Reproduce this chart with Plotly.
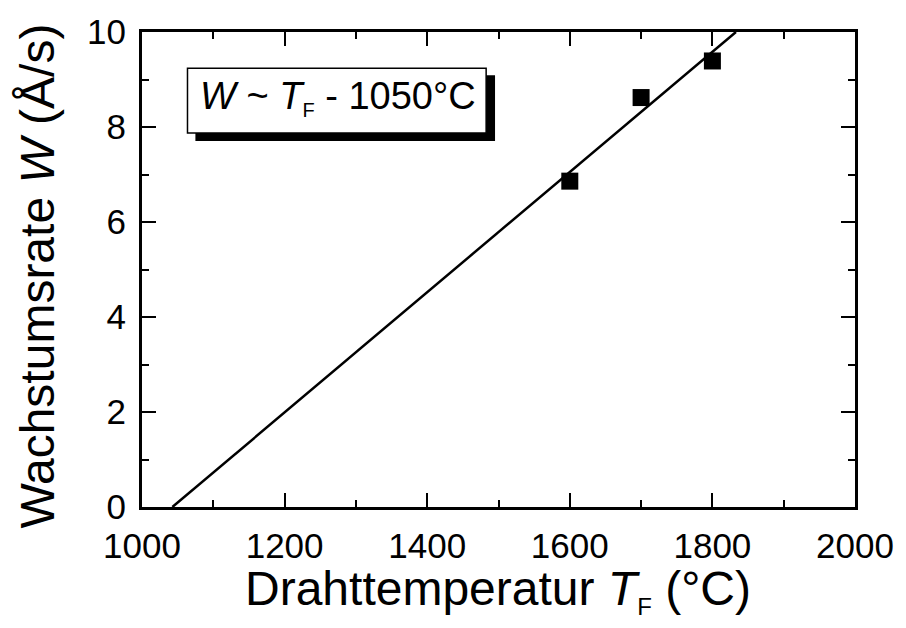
import plotly.graph_objects as go

# Data
temp_C = [1600, 1700, 1800]
rate_A_per_s = [6.86, 8.62, 9.39]
fit_T = [1042.6, 1833]
fit_W = [0, 10]
x_ticks = [1000, 1200, 1400, 1600, 1800, 2000]
y_ticks = [0, 2, 4, 6, 8, 10]

FONT = "Liberation Sans"
W, H = 906, 628
L, R, T, B = 142, 43, 23, 121
pw, ph = W - L - R, H - T - B

def px(x):
    return (x - L) / pw

def py(y):
    return (H - B - y) / ph

fig = go.Figure()
fig.add_trace(go.Scatter(x=fit_T, y=fit_W, mode="lines",
                         line=dict(color="black", width=2.5), showlegend=False,
                         cliponaxis=True))
fig.add_trace(go.Scatter(x=temp_C, y=rate_A_per_s, mode="markers",
                         marker=dict(symbol="square", size=17, color="black"),
                         showlegend=False, cliponaxis=False))

axis_common = dict(
    showline=True, linecolor="black", linewidth=3, mirror="allticks",
    ticks="inside", ticklen=14, tickwidth=2, tickcolor="black",
    showgrid=False, zeroline=False,
    tickfont=dict(family=FONT, size=35, color="black"),
)

fig.update_xaxes(range=[1000, 2000], tickvals=x_ticks,
                 minor=dict(dtick=100, ticks="inside", ticklen=7, tickwidth=2,
                            tickcolor="black", showgrid=False),
                 ticklabelstandoff=6,
                 **axis_common)
fig.update_yaxes(range=[0, 10], tickvals=y_ticks,
                 minor=dict(dtick=1, ticks="inside", ticklen=7, tickwidth=2,
                            tickcolor="black", showgrid=False),
                 ticklabelstandoff=6,
                 **axis_common)

# Shadow + box
fig.add_shape(type="rect", xref="paper", yref="paper",
              x0=px(196), x1=px(499), y0=py(134), y1=py(67),
              fillcolor="black", line=dict(width=0), layer="above")
fig.add_shape(type="rect", xref="paper", yref="paper",
              x0=px(188), x1=px(490), y0=py(126), y1=py(60),
              fillcolor="white", line=dict(color="black", width=1.5), layer="above")

fig.add_annotation(xref="paper", yref="paper", x=px(340), y=py(90),
                   xanchor="center", yanchor="middle", showarrow=False,
                   text="<i>W</i> ~ <i>T</i><sub><span style='font-size:20px'>F</span></sub> - 1050°C",
                   font=dict(family=FONT, size=38, color="black"))

# Axis titles
fig.add_annotation(xref="paper", yref="paper", x=px(502), y=py(593),
                   xanchor="center", yanchor="middle", showarrow=False,
                   text="Drahttemperatur <i>T</i><sub><span style='font-size:24px'>F</span></sub> (°C)",
                   font=dict(family=FONT, size=48, color="black"))
fig.add_annotation(xref="paper", yref="paper", x=px(36), y=py(272),
                   xanchor="center", yanchor="middle", showarrow=False,
                   textangle=-90,
                   text="Wachstumsrate <i>W</i> (Å/s)",
                   font=dict(family=FONT, size=48, color="black"))

fig.update_layout(width=W, height=H, margin=dict(l=L, r=R, t=T, b=B),
                  plot_bgcolor="white", paper_bgcolor="white",
                  font=dict(family=FONT, color="black"))

fig.write_html("out.html")
